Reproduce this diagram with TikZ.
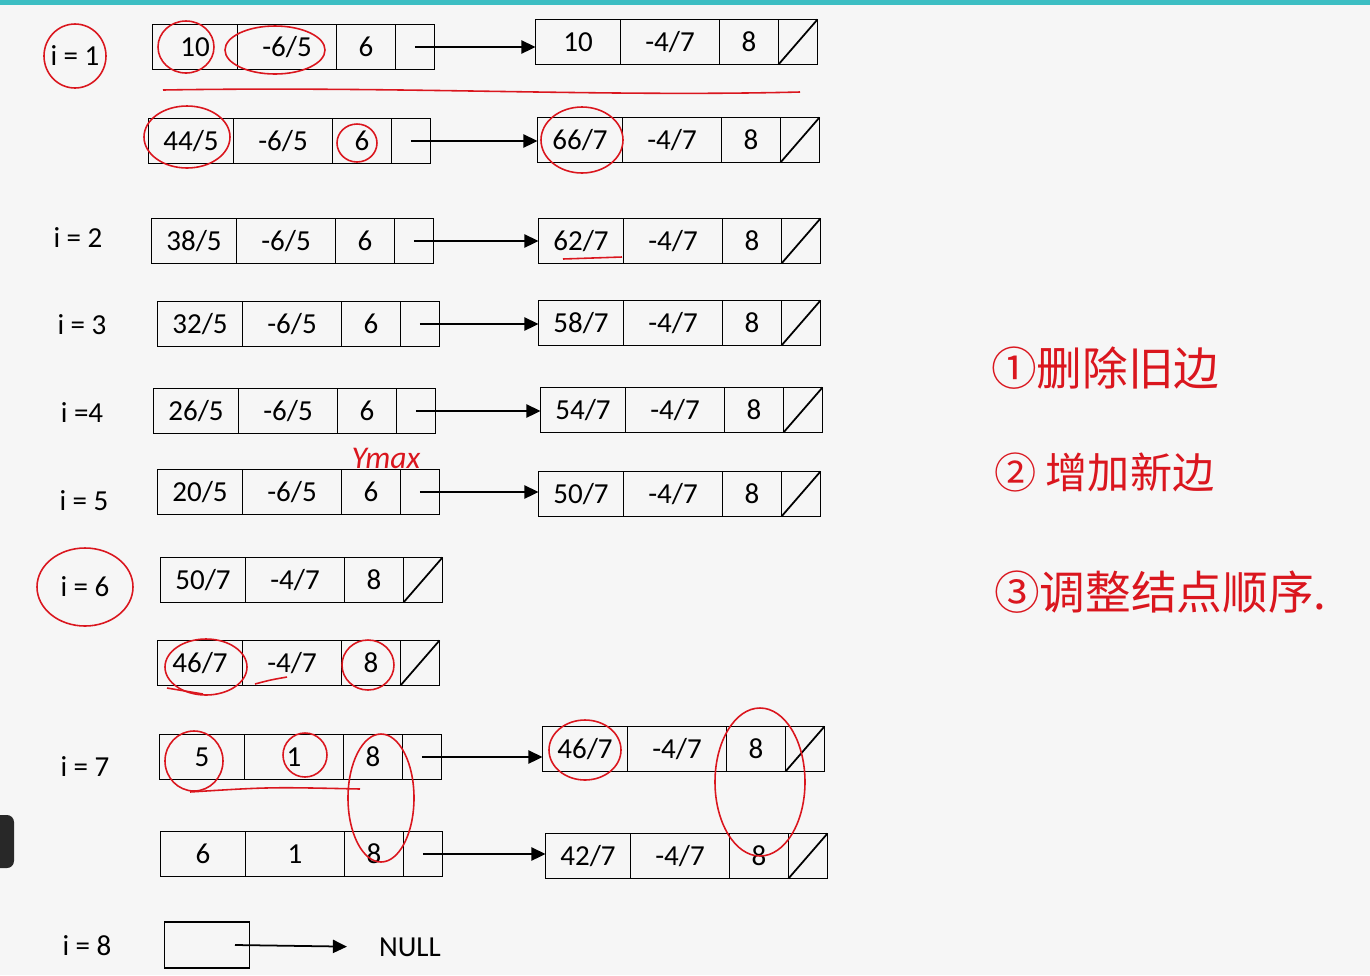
\documentclass[tikz,border=0pt]{standalone}
\usepackage{fontspec}
\setmainfont{Carlito}
\newfontfamily\cjk{Noto Sans CJK SC}
\usetikzlibrary{arrows.meta,positioning}
\definecolor{slidebg}{RGB}{246,246,246}
\definecolor{slideteal}{RGB}{60,190,195}
\definecolor{darktab}{RGB}{40,40,40}
\definecolor{penred}{RGB}{218,22,30}

\begin{document}
\begin{tikzpicture}[x=0.02cm,y=-0.02cm,font=\fontsize{16.5}{19}\selectfont,
  cell/.style={draw,line width=1pt,minimum height=0.9cm,inner sep=0pt,outer sep=0pt},
  valc/.style={cell,minimum width=1.7cm},
  slpc/.style={cell,minimum width=1.98cm},
  ymc/.style={cell,minimum width=1.18cm},
  ptrc/.style={cell,minimum width=0.78cm},
  nxt/.style={-{Triangle[length=8pt,width=7.5pt]},line width=1pt},
  pen/.style={penred,line width=0.9pt}]
  \useasboundingbox (0,0) rectangle (1370,975);
  \fill[slidebg] (0,0) rectangle (1370,975);
  \fill[slideteal] (0,0) rectangle (1370,5);
  \fill[darktab,rounded corners=4pt] (-10,815) rectangle (14,868);

  % step labels
  \node (l1) at (75,56) {i = 1};
  \node (l2) at (78,238) {i = 2};
  \node (l3) at (82,325) {i = 3};
  \node (l4) at (82,413) {i =4};
  \node (l5) at (84,501) {i = 5};
  \node (l6) at (85,587) {i = 6};
  \node (l7) at (85,767) {i = 7};
  \node (l8) at (87,946) {i = 8};

  % left lists
  \node[valc] (r1v) at (195,47) {10}; \node[slpc,right=0pt of r1v] (r1k) {-6/5}; \node[ymc,right=0pt of r1k] (r1y) {6}; \node[ptrc,right=0pt of r1y] (r1p) {};
  \node[valc] (r2v) at (191,141) {44/5}; \node[slpc,right=0pt of r2v] (r2k) {-6/5}; \node[ymc,right=0pt of r2k] (r2y) {6}; \node[ptrc,right=0pt of r2y] (r2p) {};
  \node[valc] (r3v) at (194,241) {38/5}; \node[slpc,right=0pt of r3v] (r3k) {-6/5}; \node[ymc,right=0pt of r3k] (r3y) {6}; \node[ptrc,right=0pt of r3y] (r3p) {};
  \node[valc] (r4v) at (200,324) {32/5}; \node[slpc,right=0pt of r4v] (r4k) {-6/5}; \node[ymc,right=0pt of r4k] (r4y) {6}; \node[ptrc,right=0pt of r4y] (r4p) {};
  \node[valc] (r5v) at (196,411) {26/5}; \node[slpc,right=0pt of r5v] (r5k) {-6/5}; \node[ymc,right=0pt of r5k] (r5y) {6}; \node[ptrc,right=0pt of r5y] (r5p) {};
  \node[valc] (r6v) at (200,492) {20/5}; \node[slpc,right=0pt of r6v] (r6k) {-6/5}; \node[ymc,right=0pt of r6k] (r6y) {6}; \node[ptrc,right=0pt of r6y] (r6p) {};
  \node[valc] (r7v) at (203,580) {50/7}; \node[slpc,right=0pt of r7v] (r7k) {-4/7}; \node[ymc,right=0pt of r7k] (r7y) {8}; \node[ptrc,right=0pt of r7y] (r7p) {};
  \node[valc] (r8v) at (200,663) {46/7}; \node[slpc,right=0pt of r8v] (r8k) {-4/7}; \node[ymc,right=0pt of r8k] (r8y) {8}; \node[ptrc,right=0pt of r8y] (r8p) {};
  \node[valc] (r9v) at (202,757) {5}; \node[slpc,right=0pt of r9v] (r9k) {1}; \node[ymc,right=0pt of r9k] (r9y) {8}; \node[ptrc,right=0pt of r9y] (r9p) {};
  \node[valc] (r10v) at (203,854) {6}; \node[slpc,right=0pt of r10v] (r10k) {1}; \node[ymc,right=0pt of r10k] (r10y) {8}; \node[ptrc,right=0pt of r10y] (r10p) {};
  \node[valc,minimum height=0.92cm] (r11v) at (207,945) {};
  \node (nul) at (410,947) {NULL};

  % right lists
  \node[valc] (s1v) at (578,42) {10}; \node[slpc,right=0pt of s1v] (s1k) {-4/7}; \node[ymc,right=0pt of s1k] (s1y) {8}; \node[ptrc,right=0pt of s1y] (s1p) {};
  \node[valc] (s2v) at (580,140) {66/7}; \node[slpc,right=0pt of s2v] (s2k) {-4/7}; \node[ymc,right=0pt of s2k] (s2y) {8}; \node[ptrc,right=0pt of s2y] (s2p) {};
  \node[valc] (s3v) at (581,241) {62/7}; \node[slpc,right=0pt of s3v] (s3k) {-4/7}; \node[ymc,right=0pt of s3k] (s3y) {8}; \node[ptrc,right=0pt of s3y] (s3p) {};
  \node[valc] (s4v) at (581,323) {58/7}; \node[slpc,right=0pt of s4v] (s4k) {-4/7}; \node[ymc,right=0pt of s4k] (s4y) {8}; \node[ptrc,right=0pt of s4y] (s4p) {};
  \node[valc] (s5v) at (583,410) {54/7}; \node[slpc,right=0pt of s5v] (s5k) {-4/7}; \node[ymc,right=0pt of s5k] (s5y) {8}; \node[ptrc,right=0pt of s5y] (s5p) {};
  \node[valc] (s6v) at (581,494) {50/7}; \node[slpc,right=0pt of s6v] (s6k) {-4/7}; \node[ymc,right=0pt of s6k] (s6y) {8}; \node[ptrc,right=0pt of s6y] (s6p) {};
  \node[valc] (s9v) at (585,749) {46/7}; \node[slpc,right=0pt of s9v] (s9k) {-4/7}; \node[ymc,right=0pt of s9k] (s9y) {8}; \node[ptrc,right=0pt of s9y] (s9p) {};
  \node[valc] (s10v) at (588,856) {42/7}; \node[slpc,right=0pt of s10v] (s10k) {-4/7}; \node[ymc,right=0pt of s10k] (s10y) {8}; \node[ptrc,right=0pt of s10y] (s10p) {};

  % null slashes
  \foreach \n in {s1p,s2p,s3p,s4p,s5p,s6p,r7p,r8p,s9p,s10p}
    \draw[line width=1pt] (\n.south west) -- (\n.north east);

  % next pointers
  \foreach \a/\b in {r1/s1,r2/s2,r3/s3,r4/s4,r5/s5,r6/s6,r9/s9,r10/s10}
    \draw[nxt] (\a p.center) -- (\a p.center -| \b v.west);
  \draw[nxt,shorten >=0.52cm] ([xshift=0.56cm]r11v.center) -- (nul.west);

  % red pen marks
  \draw[pen] (l1) ellipse [x radius=31, y radius=32];
  \draw[pen] (186,47) ellipse [x radius=28, y radius=26];
  \draw[pen] (275,50) ellipse [x radius=50, y radius=24];
  \draw[pen] (163,90) .. controls (400,86) and (600,97) .. (800,92);
  \draw[pen] (187,137) ellipse [x radius=43, y radius=31];
  \draw[pen] (357,143) ellipse [x radius=20, y radius=19];
  \draw[pen] (582,140) ellipse [x radius=41, y radius=33];
  \draw[pen] (563,259) -- (622,257);
  \node[penred,font=\fontsize{18}{18}\selectfont\itshape] (ymax) at (386,458) {Ymax};
  \draw[pen] (l6) ellipse [x radius=48, y radius=39];
  \draw[pen] (206,667) ellipse [x radius=41, y radius=28];
  \draw[pen] (167,688) -- (203,694);
  \draw[pen] (255,684) .. controls (270,680) .. (287,677);
  \draw[pen] (368,665) ellipse [x radius=26, y radius=25];
  \draw[pen] (194,761) ellipse [x radius=29, y radius=30];
  \draw[pen] (305,755) ellipse [x radius=22, y radius=22];
  \draw[pen] (190,792) .. controls (270,787) .. (360,789);
  \draw[pen] (381,798) ellipse [x radius=33, y radius=64];
  \draw[pen] (585,750) ellipse [x radius=36, y radius=30];
  \draw[pen] (760,782) ellipse [x radius=45, y radius=74];

  % steps
  \node[penred,font=\cjk\fontsize{26}{26}\selectfont,anchor=west] (st1) at (985,368) {①删除旧边};
  \node[penred,font=\cjk\fontsize{24}{24}\selectfont,anchor=west] (st2) at (988,472) {② 增加新边};
  \node[penred,font=\cjk\fontsize{26}{26}\selectfont,anchor=west] (st3) at (988,592) {③调整结点顺序.};
\end{tikzpicture}
\end{document}
